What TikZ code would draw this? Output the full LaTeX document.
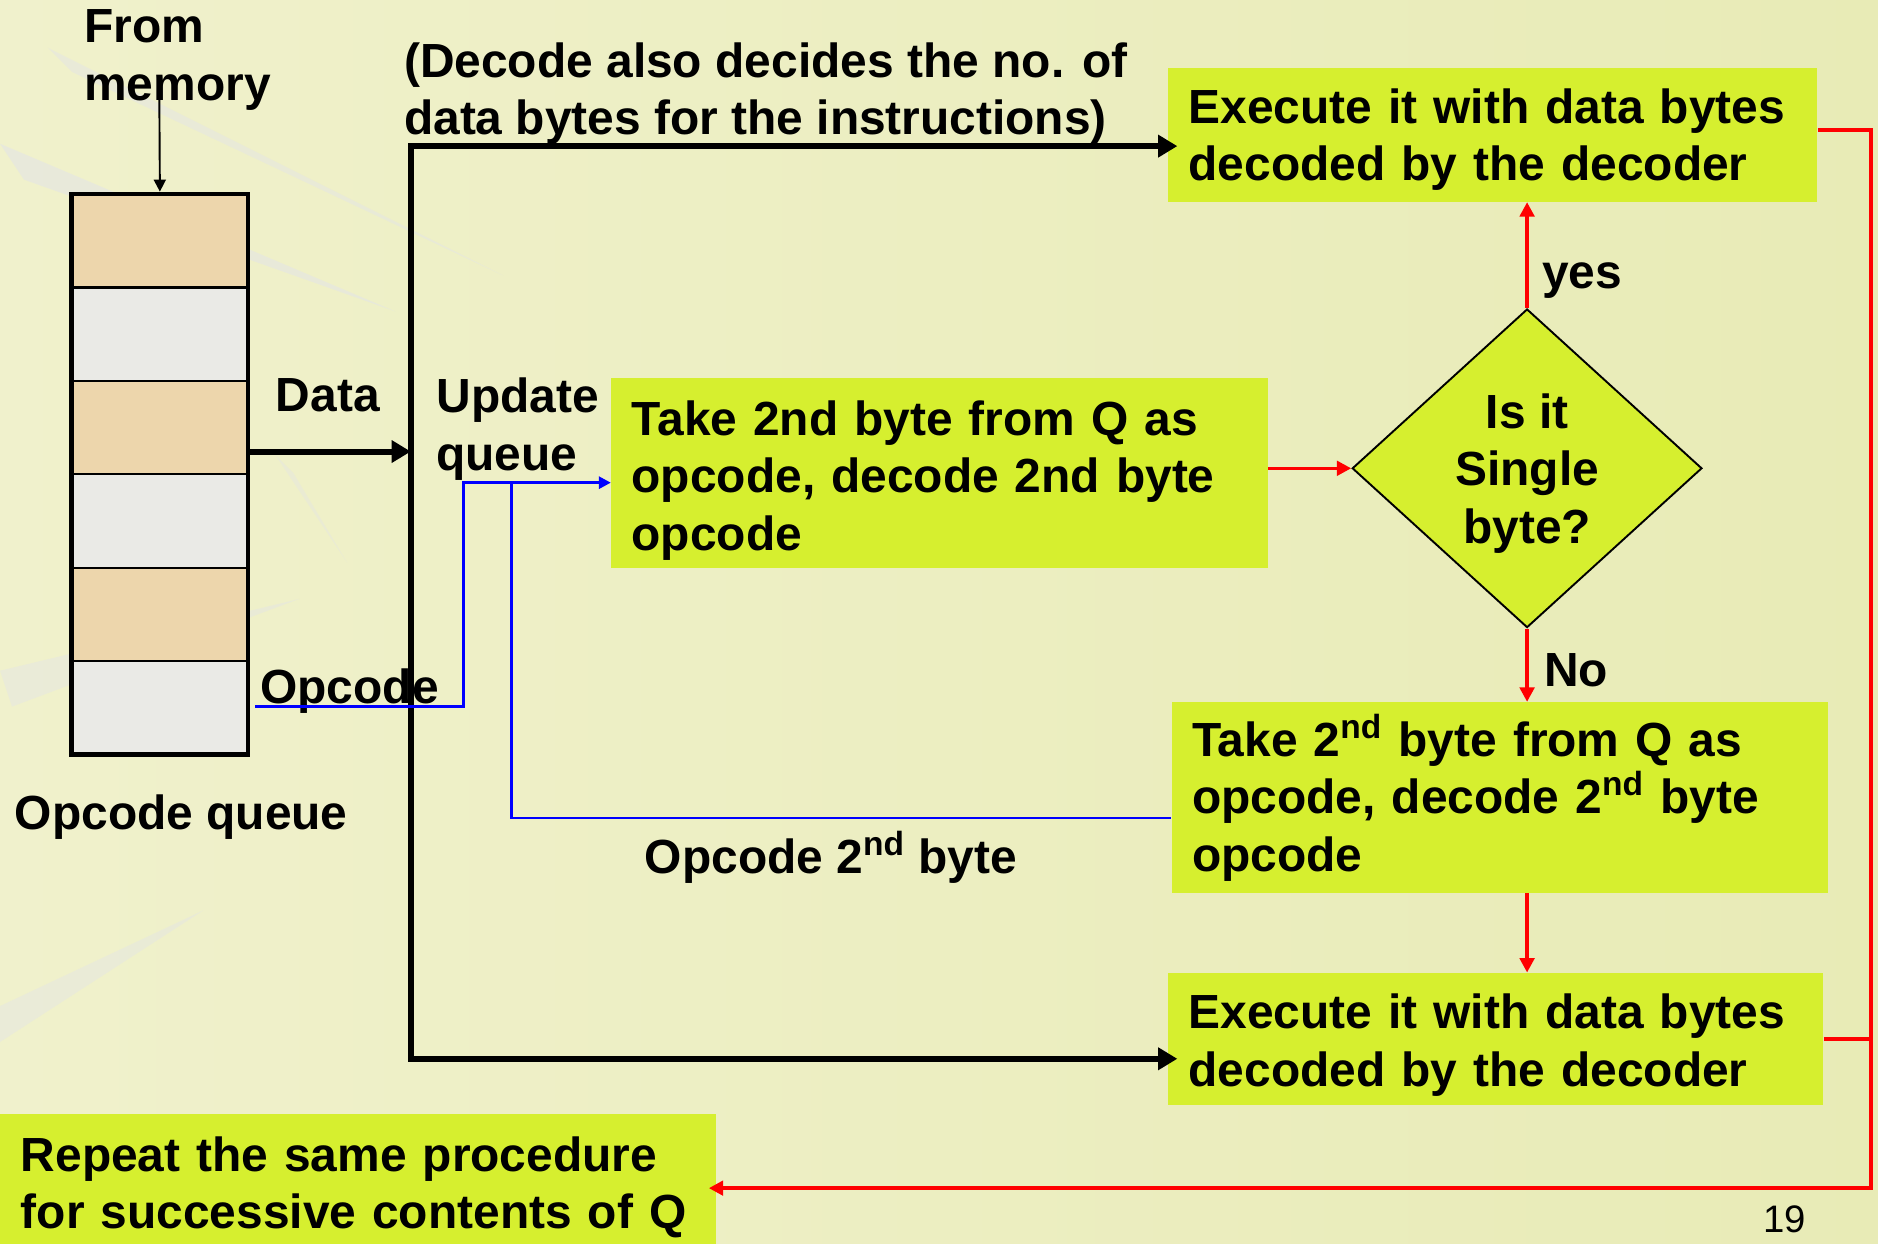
\documentclass[tikz,border=0pt]{standalone}
\usepackage{fontspec}
\setmainfont{Liberation Sans}
\usepackage{tikz}
\usetikzlibrary{arrows.meta,positioning,calc,shapes.geometric}

\definecolor{boxlime}{HTML}{D6EF2F}
\definecolor{bgleft}{HTML}{F0F1CC}
\definecolor{bgright}{HTML}{E8EBB6}
\definecolor{celltan}{HTML}{EDD6AC}
\definecolor{cellgray}{HTML}{EAEAE6}
\definecolor{leaf}{HTML}{E2E3EA}

\newcommand{\slidefont}{\fontsize{20}{24}\selectfont\bfseries}

\tikzset{
  stepbox/.style={rectangle,fill=boxlime,anchor=north west,align=left,inner xsep=8.5pt,inner ysep=0pt,font=\slidefont},
  decision/.style={diamond,draw=black,line width=0.8pt,fill=boxlime,align=center,inner sep=0pt,text depth=0pt,minimum width=146pt,minimum height=133pt,font=\slidefont},
  label/.style={align=left,inner sep=0pt,text depth=0pt,font=\slidefont},
  busline/.style={line width=2.5pt,line join=miter},
  redline/.style={red,line width=1.5pt},
  redarrow/.style={redline,-{Triangle[length=6pt,width=6pt]}},
  blueline/.style={blue,line width=1.2pt},
  bluearrow/.style={blueline,-{Triangle[length=5pt,width=5pt]}}
}

\begin{document}
\begin{tikzpicture}[x=0.5pt,y=-0.5pt]
        % background
        \useasboundingbox (0,0) rectangle (1568,1038);
        \fill[left color=bgleft,right color=bgright] (0,0) rectangle (1568,1038);
        \fill[leaf,opacity=0.5] (0,120) -- (330,260) -- (20,150) -- cycle;
        \fill[leaf,opacity=0.45] (40,40) -- (420,230) -- (60,60) -- cycle;
        \fill[leaf,opacity=0.4] (0,560) -- (250,500) -- (10,590) -- cycle;
        \fill[leaf,opacity=0.4] (0,840) -- (170,760) -- (0,870) -- cycle;
        \fill[leaf,opacity=0.35] (230,380) -- (290,470) -- (245,395) -- cycle;

        % Opcode queue cells
        \foreach \i/\c in {0/celltan,1/cellgray,2/celltan,3/cellgray,4/celltan,5/cellgray}
            \draw[fill=\c,line width=1pt] (60,162+78*\i) rectangle (207,240+78*\i);
        \node[draw,line width=2pt,minimum width=73.5pt,minimum height=234pt] (queue) at (133.5,396) {};

        % Text labels
        \node[label,anchor=west] (fromMem) at (70,46) {From\\memory};
        \node[label,anchor=west] (decodeNote) at (337,74) {(Decode also decides the no. of\\data bytes for the instructions)};
        \node[label,anchor=west] (dataLbl) at (230,330) {Data};
        \node[label,anchor=west] (updateLbl) at (364,354) {Update\\queue};
        \node[label,anchor=west] (opcodeLbl) at (217,573) {Opcode};
        \node[label,anchor=west] (queueLbl) at (12,678) {Opcode queue};
        \node[label,anchor=west] (op2Lbl) at (538,712) {Opcode 2\textsuperscript{nd} byte};
        \node[label] (yesLbl) at (1321,230) {yes};
        \node[label] (noLbl) at (1316,559) {No};
        \node[inner sep=0pt,font=\fontsize{16}{19}\selectfont] (pageNo) at (1490,1018) {19};

        % Boxes
        \node[stepbox,minimum width=271pt,minimum height=56pt,text width=254pt,text depth=24pt] (exec1) at (975,56) {Execute it with data bytes\\decoded by the decoder};
        \node[stepbox,minimum width=274pt,minimum height=79.5pt,text width=257pt,text depth=46pt] (take1) at (510,315) {Take 2nd byte from Q as\\opcode, decode 2nd byte\\opcode};
        \node[decision] (decide) at (1275,391) {Is it\\Single\\byte?};
        \node[stepbox,minimum width=274pt,minimum height=79.5pt,text width=257pt] (take2) at (978,586) {Take 2\textsuperscript{nd} byte from Q as\\opcode, decode 2\textsuperscript{nd} byte\\opcode};
        \node[stepbox,minimum width=273.5pt,minimum height=55pt,text width=256.5pt,text depth=23pt] (exec2) at (975,812) {Execute it with data bytes\\decoded by the decoder};
        \node[stepbox,minimum width=298.5pt,minimum height=58pt,text width=281.5pt,text depth=25pt] (repeat) at (0,930) {Repeat the same procedure\\for successive contents of Q};

        % Helper coordinates
        \coordinate (memIn) at (133,76);
        \coordinate (busTop) at (343,122);
        \coordinate (busBot) at (343,884);
        \coordinate (busData) at (343,377);
        \coordinate (opOut) at (213,590);
        \coordinate (opTurn) at (387,403);
        \coordinate (opSplit) at (427,403);
        \coordinate (op2Row) at (427,683);
        \coordinate (loopR) at (1562,992);

        % Black arrows
        \draw[line width=0.8pt,-{Triangle[length=5pt,width=5pt]}] (memIn) -- (queue.north);
        \draw[busline,-{Triangle[length=8pt,width=9pt]}] (queue.east |- busData) -- (busData);
        \draw[busline,{Triangle[length=8pt,width=9pt]}-{Triangle[length=8pt,width=9pt]}] ([xshift=4pt]exec1.west |- busTop) -- (busTop) -- (busBot) -- ([xshift=4pt]exec2.west |- busBot);

        % Blue arrows
        \draw[bluearrow] (opOut) -| (opTurn) -- (take1.west |- opTurn);
        \draw[blueline] (opSplit) -- (op2Row) -- (take2.west |- op2Row);

        % Red arrows
        \draw[redarrow] (decide.west -| take1.east) -- (decide.west);
        \draw[redarrow] (decide.north) -- (decide.north |- exec1.south);
        \draw[redarrow] (decide.south) -- (decide.south |- take2.north);
        \draw[redarrow] (decide.south |- take2.south) -- (decide.south |- exec2.north);
        \draw[redarrow] ([yshift=2pt]exec1.east) -| (loopR) -- ([xshift=-3pt]repeat.east |- loopR);
        \draw[redline] (exec2.east) -- (exec2.east -| loopR);
\end{tikzpicture}
\end{document}
